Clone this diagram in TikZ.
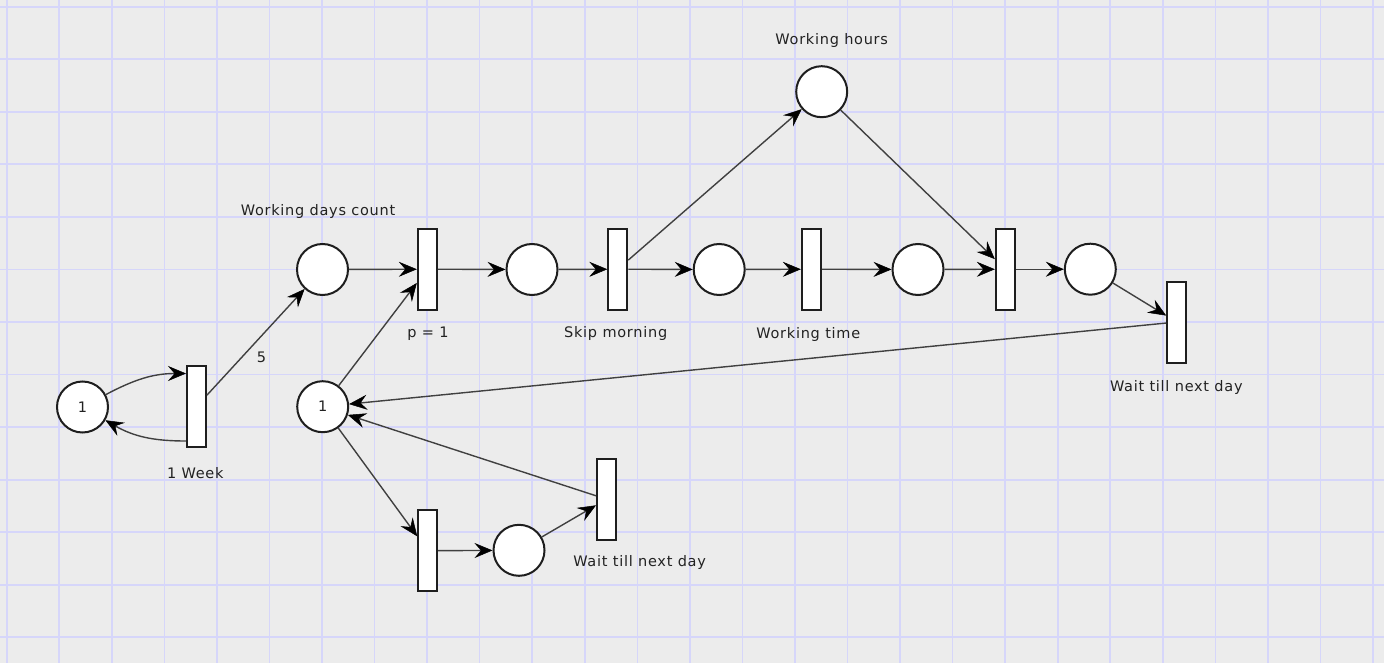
\documentclass[tikz,border=0pt]{standalone}
\usepackage{fontspec}
\setmainfont{DejaVu Sans}[LetterSpace=5]
\usetikzlibrary{arrows.meta}
\definecolor{bg}{HTML}{ECECEC}
\definecolor{gridc}{HTML}{D6D6FA}
\definecolor{edgec}{HTML}{404040}
\definecolor{txt}{HTML}{222222}
\definecolor{bordc}{HTML}{1E1E1E}
\begin{document}
\begin{tikzpicture}[x=1pt,y=1pt,
  place/.style={circle,draw=bordc,line width=2pt,fill=white,minimum size=51pt,inner sep=0pt,text=txt,font=\fontsize{14.5}{16}\selectfont},
  trans/.style={rectangle,draw=bordc,line width=2pt,fill=white,minimum width=19pt,minimum height=81pt,inner sep=0pt},
  lbl/.style={text=txt,inner sep=0pt,anchor=base,font=\fontsize{14.5}{16}\selectfont},
  arc/.style={draw=edgec,line width=1.4pt,-{Stealth[length=18pt,width=15pt,inset=6.5pt,color=black,fill=black,line width=0.5pt]}},
]
\useasboundingbox (0,0) rectangle (1384,-663);
\fill[bg] (0,0) rectangle (1384,-663);
\begin{scope}
\clip (0,0) rectangle (1384,-663);
\foreach \i in {0,...,26} \draw[gridc,line width=1.6pt] ({6.7+52.55*\i},0) -- ({6.7+52.55*\i},-663);
\foreach \j in {0,...,12} \draw[gridc,line width=1.8pt] (0,{-6.7-52.55*\j}) -- (1384,{-6.7-52.55*\j});
\end{scope}

% places and transitions
\node[place] (p1) at (82.5,-407) {1};
\node[trans] (t1) at (196.5,-406.5) {};
\node[place] (p2) at (322.5,-269.5) {};
\node[trans] (t2) at (427.3,-269.2) {};
\node[place] (p3) at (532,-269.5) {};
\node[trans] (t3) at (617.8,-269.2) {};
\node[place] (p4) at (719.2,-269.5) {};
\node[trans] (t4) at (811.3,-269.2) {};
\node[place] (p5) at (918,-269.5) {};
\node[place] (p6) at (821.7,-91.7) {};
\node[trans] (t5) at (1005.3,-269.2) {};
\node[place] (p7) at (1090.3,-269.2) {};
\node[trans] (t6) at (1176.7,-322) {};
\node[place] (p8) at (322.7,-406.7) {1};
\node[trans] (t7) at (427.7,-550.7) {};
\node[place] (p9) at (519,-550.3) {};
\node[trans] (t8) at (606.5,-499.2) {};

% labels
\node[lbl] (l1) at (318,-216) {Working days count};
\node[lbl] (l2) at (261.5,-362.7) {5};
\node[lbl] (l3) at (195.3,-478.3) {1 Week};
\node[lbl] (l4) at (428,-337.7) {p = 1};
\node[lbl] (l5) at (615.7,-337.3) {Skip morning};
\node[lbl] (l6) at (808.3,-338.3) {Working time};
\node[lbl] (l7) at (831.7,-44.3) {Working hours};
\node[lbl] (l8) at (1176.3,-391) {Wait till next day};
\node[lbl] (l9) at (639.6,-566.7) {Wait till next day};

% arcs
\draw[arc] (p1) to[out=28,in=180] ([yshift=33pt]t1.west);
\draw[arc] ([yshift=-34.5pt]t1.west) to[out=180,in=-30] (p1);
\draw[arc] (t1) -- (p2);
\draw[arc] (p2) -- (t2);
\draw[arc] (p8) -- (t2);
\draw[arc] (t2) -- (p3);
\draw[arc] (p3) -- (t3);
\draw[arc] (t3) -- (p4);
\draw[arc] (t3) -- (p6);
\draw[arc] (p4) -- (t4);
\draw[arc] (t4) -- (p5);
\draw[arc] (p5) -- (t5);
\draw[arc] (p6) -- (t5);
\draw[arc] (t5) -- (p7);
\draw[arc] (p7) -- (t6);
\draw[arc] (t6) -- (p8);
\draw[arc] (p8) -- (t7);
\draw[arc] (t7) -- (p9);
\draw[arc] (p9) -- (t8);
\draw[arc] (t8) -- (p8);
\end{tikzpicture}
\end{document}
